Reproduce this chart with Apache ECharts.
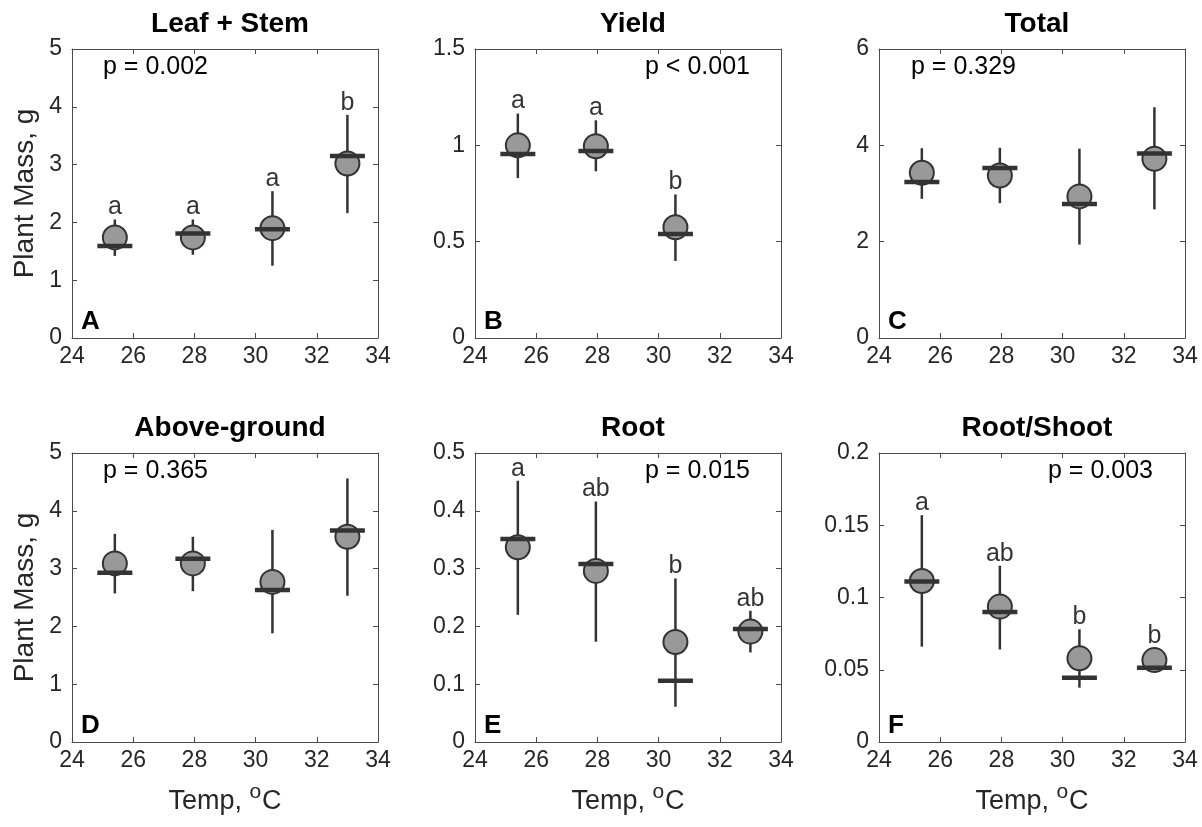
<!DOCTYPE html>
<html>
<head>
<meta charset="utf-8">
<script src="https://cdn.jsdelivr.net/npm/echarts@6/dist/echarts.min.js"></script>
<style>
html,body{margin:0;padding:0;background:#fff;}
#chart{width:1202px;height:827px;}
</style>
</head>
<body>
<div id="chart"></div>
<script>
// ---- Data ----
var temps = [25.4, 27.95, 30.55, 33.0];

var leafStemMean   = [1.74, 1.74, 1.90, 3.02];
var leafStemMedian = [1.59, 1.81, 1.88, 3.15];
var leafStemLow    = [1.42, 1.44, 1.25, 2.16];
var leafStemHigh   = [2.05, 2.05, 2.54, 3.86];
var leafStemLetters = ['a', 'a', 'a', 'b'];

var yieldMean   = [1.00, 0.995, 0.575];
var yieldMedian = [0.955, 0.97, 0.54];
var yieldLow    = [0.83, 0.865, 0.40];
var yieldHigh   = [1.165, 1.13, 0.745];
var yieldLetters = ['a', 'a', 'b'];

var totalMean   = [3.43, 3.375, 2.94, 3.72];
var totalMedian = [3.24, 3.53, 2.78, 3.83];
var totalLow    = [2.89, 2.80, 1.94, 2.67];
var totalHigh   = [3.94, 3.95, 3.93, 4.79];
var totalLetters = [];

var aboveMean   = [3.09, 3.09, 2.77, 3.55];
var aboveMedian = [2.93, 3.17, 2.63, 3.66];
var aboveLow    = [2.57, 2.61, 1.88, 2.53];
var aboveHigh   = [3.60, 3.55, 3.67, 4.56];
var aboveLetters = [];

var rootMean   = [0.337, 0.296, 0.173, 0.191];
var rootMedian = [0.351, 0.308, 0.106, 0.1955];
var rootLow    = [0.220, 0.1735, 0.061, 0.155];
var rootHigh   = [0.452, 0.416, 0.283, 0.227];
var rootLetters = ['a', 'ab', 'b', 'ab'];

var rsMean   = [0.1114, 0.0937, 0.0579, 0.0567];
var rsMedian = [0.111, 0.090, 0.0445, 0.0514];
var rsLow    = [0.066, 0.064, 0.0376, 0.052];
var rsHigh   = [0.157, 0.122, 0.078, 0.065];
var rsLetters = ['a', 'ab', 'b', 'b'];

var titles = ['Leaf + Stem', 'Yield', 'Total', 'Above-ground', 'Root', 'Root/Shoot'];
var pTexts = ['p = 0.002', 'p < 0.001', 'p = 0.329', 'p = 0.365', 'p = 0.015', 'p = 0.003'];
var panelLetters = ['A', 'B', 'C', 'D', 'E', 'F'];
var yMax = [5, 1.5, 6, 5, 0.5, 0.2];
var yInterval = [1, 0.5, 2, 1, 0.1, 0.05];
var xMin = 24, xMax = 34, xInterval = 2;

var panelData = [
  [leafStemMean, leafStemMedian, leafStemLow, leafStemHigh, leafStemLetters],
  [yieldMean, yieldMedian, yieldLow, yieldHigh, yieldLetters],
  [totalMean, totalMedian, totalLow, totalHigh, totalLetters],
  [aboveMean, aboveMedian, aboveLow, aboveHigh, aboveLetters],
  [rootMean, rootMedian, rootLow, rootHigh, rootLetters],
  [rsMean, rsMedian, rsLow, rsHigh, rsLetters]
];

// ---- Layout ----
var FONT = "'Liberation Sans', Arial, Helvetica, sans-serif";
var gridLefts = [72, 475, 879];
var gridTops = [49, 453];
var GW = 306, GH = 289;
var pTextOffset = [31, 170, 32, 31, 170, 169];
var axisColor = '#4a4a4a';
var textColor = '#262626';

var grids = [], xAxes = [], yAxes = [], series = [], titleComps = [], graphics = [];

for (var i = 0; i < 6; i++) {
  var col = i % 3, row = Math.floor(i / 3);
  var L = gridLefts[col], T = gridTops[row];
  grids.push({left: L, top: T, width: GW, height: GH, containLabel: false});

  var isBottom = row === 1, isLeft = col === 0;
  xAxes.push({
    type: 'value', gridIndex: i, position: 'bottom', min: xMin, max: xMax, interval: xInterval,
    axisLine: {show: true, onZero: false, lineStyle: {color: axisColor, width: 1}},
    axisTick: {show: true, inside: true, length: 5, lineStyle: {color: axisColor}},
    axisLabel: {show: true, color: textColor, fontSize: 23, fontFamily: FONT, margin: 7},
    splitLine: {show: false},
    name: isBottom ? '{main|Temp, }{sup|o}{main|C}' : '',
    nameLocation: 'middle', nameGap: 40,
    nameTextStyle: {color: textColor, fontSize: 27, fontFamily: FONT,
      rich: {
        main: {fontSize: 27, fontFamily: FONT, color: textColor},
        sup: {fontSize: 21, fontFamily: FONT, color: textColor, padding: [0, 1, 18, 0]}
      }}
  });
  xAxes.push({
    type: 'value', gridIndex: i, position: 'top', min: xMin, max: xMax, interval: xInterval,
    axisLine: {show: true, onZero: false, lineStyle: {color: axisColor, width: 1}},
    axisTick: {show: true, inside: true, length: 5, lineStyle: {color: axisColor}},
    axisLabel: {show: false}, splitLine: {show: false}
  });
  yAxes.push({
    type: 'value', gridIndex: i, position: 'left', min: 0, max: yMax[i], interval: yInterval[i],
    axisLine: {show: true, onZero: false, lineStyle: {color: axisColor, width: 1}},
    axisTick: {show: true, inside: true, length: 5, lineStyle: {color: axisColor}},
    axisLabel: {show: true, color: textColor, fontSize: 23, fontFamily: FONT, margin: 10},
    splitLine: {show: false},
    name: isLeft ? 'Plant Mass, g' : '',
    nameLocation: 'middle', nameGap: 33, nameRotate: 90,
    nameTextStyle: {color: textColor, fontSize: 28, fontFamily: FONT}
  });
  yAxes.push({
    type: 'value', gridIndex: i, position: 'right', min: 0, max: yMax[i], interval: yInterval[i],
    axisLine: {show: true, onZero: false, lineStyle: {color: axisColor, width: 1}},
    axisTick: {show: true, inside: true, length: 5, lineStyle: {color: axisColor}},
    axisLabel: {show: false}, splitLine: {show: false}
  });

  var d = panelData[i];
  var mean = d[0], med = d[1], lo = d[2], hi = d[3], letters = d[4];
  var errData = [], meanData = [], medData = [], letterData = [];
  for (var k = 0; k < mean.length; k++) {
    errData.push([temps[k], lo[k], hi[k]]);
    meanData.push([temps[k], mean[k]]);
    medData.push([temps[k], med[k]]);
    if (letters[k]) letterData.push([temps[k], hi[k], letters[k]]);
  }
  var xi = i * 2, yi = i * 2;

  series.push({
    type: 'custom', xAxisIndex: xi, yAxisIndex: yi, z: 2, silent: true,
    encode: {x: 0, y: [1, 2]},
    data: errData,
    renderItem: function (params, api) {
      var a = api.coord([api.value(0), api.value(1)]);
      var b = api.coord([api.value(0), api.value(2)]);
      return {type: 'line', shape: {x1: a[0], y1: a[1], x2: b[0], y2: b[1]},
        style: {stroke: '#333333', lineWidth: 2.5}};
    }
  });
  series.push({
    type: 'scatter', xAxisIndex: xi, yAxisIndex: yi, z: 3, silent: true,
    symbol: 'circle', symbolSize: 24,
    itemStyle: {color: '#999999', borderColor: '#333333', borderWidth: 2, opacity: 1},
    data: meanData
  });
  series.push({
    type: 'custom', xAxisIndex: xi, yAxisIndex: yi, z: 4, silent: true,
    encode: {x: 0, y: 1},
    data: medData,
    renderItem: function (params, api) {
      var c = api.coord([api.value(0), api.value(1)]);
      return {type: 'line', shape: {x1: c[0] - 17.5, y1: c[1], x2: c[0] + 17.5, y2: c[1]},
        style: {stroke: '#333333', lineWidth: 4.5}};
    }
  });
  if (letterData.length) {
    series.push({
      type: 'scatter', xAxisIndex: xi, yAxisIndex: yi, z: 5, silent: true,
      symbol: 'circle', symbolSize: 1,
      itemStyle: {color: 'rgba(0,0,0,0)'},
      label: {show: true, position: 'top', distance: 2, offset: [0, 3], color: '#000', fontSize: 25, fontFamily: FONT,
        formatter: function (p) { return p.value[2]; }},
      data: letterData
    });
  }

  titleComps.push({
    text: titles[i], left: L + GW / 2, top: T - 44, textAlign: 'center',
    textStyle: {fontSize: 28, fontWeight: 'bold', color: '#000', fontFamily: FONT}
  });

  graphics.push({
    type: 'text', left: L + pTextOffset[i], top: T + 6, z: 10,
    style: {text: pTexts[i], fontSize: 25, fill: '#000', fontFamily: FONT}
  });
  graphics.push({
    type: 'text', left: L + 9, top: T + GH - 29, z: 10,
    style: {text: panelLetters[i], fontSize: 26, fontWeight: 'bold', fill: '#000', fontFamily: FONT}
  });
}

var chart = echarts.init(document.getElementById('chart'), null, {renderer: 'canvas'});
chart.setOption({
  animation: false,
  backgroundColor: '#ffffff',
  title: titleComps,
  grid: grids,
  xAxis: xAxes,
  yAxis: yAxes,
  series: series,
  graphic: graphics
});
</script>
</body>
</html>
